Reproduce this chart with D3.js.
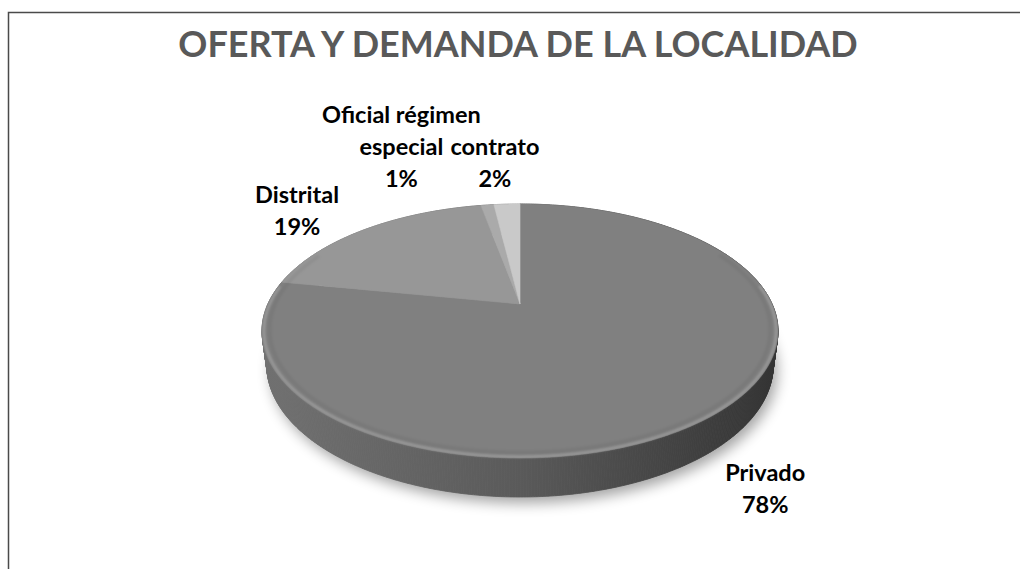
<!DOCTYPE html>
<html><head><meta charset="utf-8">
<script src="https://cdn.jsdelivr.net/npm/d3@7"></script>
<style>body{margin:0;background:#fff} svg{display:block}</style>
</head><body>
<svg id="chart" width="1020" height="569"></svg>
<script>
// ---- data ----
const chartTitle = "OFERTA Y DEMANDA DE LA LOCALIDAD";
const categories = ["Privado", "Distrital", "Oficial régimen especial", "contrato"];
const labelLines = [["Privado"], ["Distrital"], ["Oficial régimen", "especial"], ["contrato"]];
const percents = [78, 19, 1, 2];
const sliceColors = ["#808080", "#979797", "#aaaaaa", "#c9c9c9"];

// ---- layout / style ----
const W = 1020, H = 569;
const cam = {cx: 520, cy: 304, f: 1039.7, D: 4.124, c: 0.8767, s: 0.481, h: 0.1547};
const labelOffset = [[53, 65], [-68, -26], [-86, -82], [-12, -49]];
const lineGap = 32;

function project(X, Y, Z) {
  const yc = Y * cam.c + Z * cam.s;
  const zc = -Y * cam.s + cam.D + Z * cam.c;
  return [cam.cx + cam.f * X / zc, cam.cy - cam.f * yc / zc];
}
const rimPt = (a, Y, r = 1) => project(r * Math.sin(a), Y, r * Math.cos(a));

const svg = d3.select("#chart");
const defs = svg.append("defs");
defs.append("filter").attr("id", "shadow").attr("x", "-20%").attr("y", "-20%").attr("width", "140%").attr("height", "140%")
  .append("feGaussianBlur").attr("stdDeviation", 7);
defs.append("filter").attr("id", "soft").append("feGaussianBlur").attr("stdDeviation", 1.2);

// frame
svg.append("path").attr("d", `M8.5,${H} V12.5 H${W}`).attr("fill", "none")
  .attr("stroke", "#4a4a4a").attr("stroke-width", 1.5);

// title
svg.append("text").attr("x", 518).attr("y", 57).attr("text-anchor", "middle")
  .attr("font-family", "Lato, 'Open Sans', sans-serif").attr("font-weight", 700)
  .attr("font-size", 36).attr("fill", "#595959").text(chartTitle);

const pie = d3.pie().sort(null).value(d => d);
const arcs = pie(percents);
const line = d3.line();
const N = 720;
const step = 2 * Math.PI / N;

// shadow under the pie
const bottomRing = d3.range(N + 1).map(i => rimPt(i * step, -cam.h));
svg.append("path").attr("d", line(bottomRing) + "Z")
  .attr("transform", "translate(4,6)")
  .attr("fill", "#000").attr("opacity", 0.36).attr("filter", "url(#shadow)");

// side gradients
const x0 = project(-1.02, 0, -0.2)[0], x1 = project(1.02, 0, -0.2)[0];
arcs.forEach((d, i) => {
  const base = d3.color(sliceColors[i]);
  const g = defs.append("linearGradient").attr("id", "side" + i)
    .attr("gradientUnits", "userSpaceOnUse").attr("x1", x0).attr("x2", x1).attr("y1", 0).attr("y2", 0);
  [[0, 0.35], [0.25, 0.65], [0.5, 1.0], [0.75, 1.7], [1, 2.7]].forEach(([o, k]) =>
    g.append("stop").attr("offset", o).attr("stop-color", base.darker(k)));
});

// sides (drawn back-to-front as small quads)
const sideG = svg.append("g");
const quads = [];
arcs.forEach((d, i) => {
  const n = Math.max(1, Math.ceil((d.endAngle - d.startAngle) / step));
  for (let k = 0; k < n; k++) {
    const a0 = d.startAngle + (d.endAngle - d.startAngle) * k / n;
    const a1 = d.startAngle + (d.endAngle - d.startAngle) * (k + 1) / n;
    const depth = -Math.cos((a0 + a1) / 2);
    quads.push({i, a0, a1, depth});
  }
});
quads.sort((p, q) => p.depth - q.depth);
sideG.selectAll("path").data(quads).join("path")
  .attr("d", q => line([rimPt(q.a0, 0), rimPt(q.a1, 0), rimPt(q.a1, -cam.h), rimPt(q.a0, -cam.h)]) + "Z")
  .attr("fill", q => `url(#side${q.i})`).attr("stroke", q => `url(#side${q.i})`).attr("stroke-width", 0.8);

// top faces
svg.append("g").selectAll("path").data(arcs).join("path")
  .attr("d", d => {
    const n = Math.max(2, Math.ceil((d.endAngle - d.startAngle) / step));
    const pts = [project(0, 0, 0)];
    for (let k = 0; k <= n; k++) pts.push(rimPt(d.startAngle + (d.endAngle - d.startAngle) * k / n, 0));
    return line(pts) + "Z";
  })
  .attr("fill", (d, i) => sliceColors[i]).attr("stroke", (d, i) => sliceColors[i]).attr("stroke-width", 0.6);

// bevel highlight along front rim
const frontRim = d3.range(Math.PI * 0.45, Math.PI * 1.55, step).map(a => rimPt(a, 0, 0.993));
svg.append("path").attr("d", line(frontRim)).attr("fill", "none")
  .attr("stroke", "#ffffff").attr("stroke-opacity", 0.2).attr("stroke-width", 2.5).attr("filter", "url(#soft)");
const innerRim = d3.range(Math.PI * 0.35, Math.PI * 1.65, step).map(a => rimPt(a, 0, 0.972));
svg.append("path").attr("d", line(innerRim)).attr("fill", "none")
  .attr("stroke", "#000").attr("stroke-opacity", 0.05).attr("stroke-width", 4).attr("filter", "url(#soft)");

// labels
const labels = svg.append("g").attr("font-family", "Lato, 'Open Sans', sans-serif")
  .attr("font-weight", 700).attr("font-size", 23.5).attr("fill", "#000").attr("text-anchor", "middle");
arcs.forEach((d, i) => {
  const mid = (d.startAngle + d.endAngle) / 2;
  const p = rimPt(mid, 0);
  const x = p[0] + labelOffset[i][0], y = p[1] + labelOffset[i][1];
  const lines = labelLines[i].concat([percents[i] + "%"]);
  const t = labels.append("text").attr("x", x).attr("y", y);
  lines.forEach((l, j) => t.append("tspan").attr("x", x).attr("y", y + j * lineGap).text(l));
});
</script>
</body></html>
